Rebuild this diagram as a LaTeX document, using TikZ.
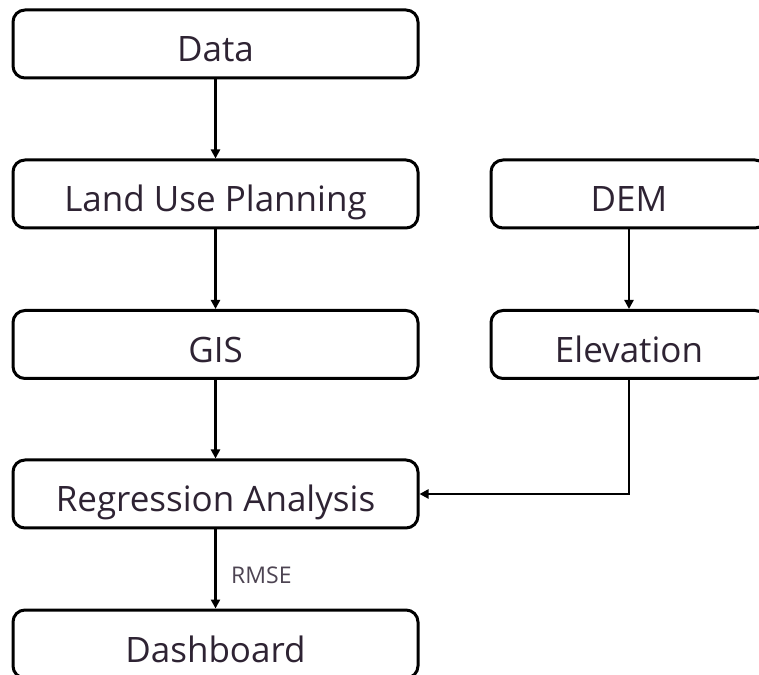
\documentclass[tikz,border=0pt]{standalone}
\usepackage{fontspec}
\setmainfont{Open Sans}
\usetikzlibrary{arrows.meta}
\definecolor{txt}{HTML}{2E2333}
\tikzset{
  box/.style={draw=black, line width=3pt, rounded corners=12pt, minimum width=405pt, minimum height=68pt, inner sep=0pt, text=txt, font=\fontsize{35}{40}\selectfont, text height=40pt, text depth=4pt},
  rbox/.style={box, minimum width=276pt},
  conn/.style={line width=2.6pt, -{Triangle[length=9pt,width=9pt]}},
  lbl/.style={text=txt!85, font=\fontsize{23}{27}\selectfont, anchor=west, inner sep=0pt}
}
\begin{document}
\begin{tikzpicture}[x=1pt,y=1pt]
\useasboundingbox (0,0) rectangle (759,674);
\clip (0,0) rectangle (759,674);
\node[box] (data) at (215.5,630) {Data};
\node[box] (land) at (215.5,480) {Land Use Planning};
\node[rbox] (dem) at (629,480) {DEM};
\node[box] (gis) at (215.5,329.5) {GIS};
\node[rbox] (elev) at (629,329.5) {Elevation};
\node[box] (reg) at (215.5,180) {Regression Analysis};
\node[box] (dash) at (215.5,30) {Dashboard};
\draw[conn] (data) -- (land);
\draw[conn] (land) -- (gis);
\draw[conn] (gis) -- (reg);
\draw[conn] (dem) -- (elev);
\draw[conn] (elev.south) |- (reg.east);
\draw[conn] (reg) -- (dash);
\node[lbl] (rmse) at (231,99) {RMSE};
\end{tikzpicture}
\end{document}
